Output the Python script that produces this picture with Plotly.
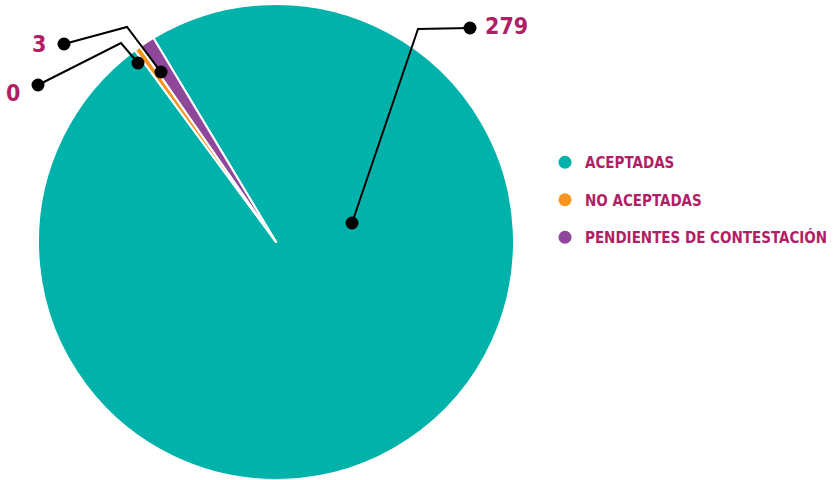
import plotly.graph_objects as go

categories = ["ACEPTADAS", "NO ACEPTADAS", "PENDIENTES DE CONTESTACIÓN"]
values = [279, 0, 3]
colors = ["#00B2A9", "#F7941D", "#8E479B"]
label_color = "#B01F66"

W, H = 837, 480
FONT = "DejaVu Sans Condensed, Liberation Sans Narrow, Roboto Condensed, Roboto, sans-serif"

# a zero slice is still drawn as a hairline in the reference
shown = [v if v > 0 else 1.2 for v in values]


def px(x, y):
    return x / W, 1 - y / H


fig = go.Figure()
fig.add_trace(go.Pie(
    labels=categories, values=shown, sort=False, direction="clockwise",
    rotation=-31, marker=dict(colors=colors, line=dict(color="white", width=2)),
    textinfo="none", hoverinfo="label", showlegend=False,
    domain=dict(x=[38 / W, 514 / W], y=[0, 1 - 4 / H]),
))

for i, (c, col) in enumerate(zip(categories, colors)):
    fig.add_trace(go.Scatter(
        x=[None], y=[None], mode="markers", name=c, legendgroup=str(i),
        marker=dict(color=col, size=13, symbol="circle"),
    ))

# leader lines: (pie dot, bend, label dot, label anchor)
leaders = [
    ((352, 223), (418, 29), (470, 28), (483, 26), "left"),
    ((138, 63), (121, 43), (38, 85), (22, 93), "right"),
    ((161, 72), (127, 27), (64, 44), (48, 44), "right"),
]
shapes = []
annotations = []
for (p0, p1, p2, lab, side), v in zip(leaders, values):
    a, b, c = px(*p0), px(*p1), px(*p2)
    shapes.append(dict(type="path", xref="paper", yref="paper",
                       path=f"M {a[0]},{a[1]} L {b[0]},{b[1]} L {c[0]},{c[1]}",
                       line=dict(color="black", width=2)))
    for p in (p0, p2):
        shapes.append(dict(type="circle", xref="paper", yref="paper",
                           x0=(p[0] - 6.5) / W, x1=(p[0] + 6.5) / W,
                           y0=1 - (p[1] + 6.5) / H, y1=1 - (p[1] - 6.5) / H,
                           fillcolor="black", line=dict(width=0)))
    lx, ly = px(*lab)
    annotations.append(dict(x=lx, y=ly, xref="paper", yref="paper",
                            text=f"<b>{v}</b>", showarrow=False,
                            xanchor="left" if side == "left" else "right",
                            yanchor="middle",
                            font=dict(family=FONT, size=23, color=label_color)))

fig.update_layout(
    width=W, height=H, margin=dict(l=0, r=0, t=0, b=0),
    paper_bgcolor="white", plot_bgcolor="white",
    xaxis=dict(visible=False), yaxis=dict(visible=False),
    shapes=shapes, annotations=annotations,
    legend=dict(x=545 / W, y=1 - 146 / H, xanchor="left", yanchor="top",
                traceorder="grouped", tracegroupgap=15,
                font=dict(family=FONT, size=15, color=label_color, weight="bold"),
                itemclick=False, bgcolor="rgba(0,0,0,0)"),
)
fig.write_html("out.html", config={"displayModeBar": False},
               post_script="document.body.style.margin='0';document.body.style.overflow='hidden';")
